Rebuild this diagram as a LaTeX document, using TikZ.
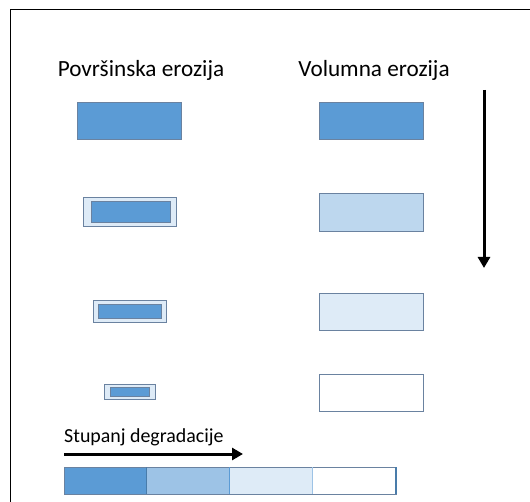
\documentclass[tikz,border=0pt]{standalone}
\usepackage{fontspec}
\setmainfont{Carlito}
\usetikzlibrary{arrows.meta}
\definecolor{dblue}{HTML}{5B9BD5}
\definecolor{mblue}{HTML}{BDD7EE}
\definecolor{m2blue}{HTML}{9DC3E6}
\definecolor{lblue}{HTML}{DEEBF7}
\definecolor{edge}{HTML}{6A82A0}
\begin{document}
\begin{tikzpicture}[x=1pt,y=-1pt,
  boxa/.style={draw=edge,line width=0.9pt},
  title/.style={font=\fontsize{23.2}{27}\selectfont,inner sep=0pt},
  bigarrow/.style={line width=3pt,-{Triangle[length=11pt,width=12pt]}}]
\useasboundingbox (0,0) rectangle (530,502);
\draw[line width=1pt] (10,502) -- (10,10) -- (530,10);
\node[title] (t1) at (141,70) {Površinska erozija};
\node[title] (t2) at (374,70) {Volumna erozija};
% left column
\filldraw[boxa,fill=dblue] (77,102) rectangle (181,139);
\filldraw[boxa,fill=lblue] (83,197) rectangle (176,226);
\filldraw[boxa,fill=dblue] (91,201) rectangle (170,222);
\filldraw[boxa,fill=lblue] (93,300) rectangle (166,322);
\filldraw[boxa,fill=dblue] (98,304) rectangle (161,318);
\filldraw[boxa,fill=lblue] (104,384) rectangle (155,399);
\filldraw[boxa,fill=dblue] (110,387) rectangle (149,396);
% right column
\filldraw[boxa,fill=dblue] (319,102) rectangle (423,139);
\filldraw[boxa,fill=mblue] (319,193) rectangle (423,231);
\filldraw[boxa,fill=lblue] (319,293) rectangle (423,330);
\filldraw[boxa,fill=white] (319,374) rectangle (423,411);
% vertical arrow
\coordinate (va) at (484,90);
\coordinate (vb) at (484,268);
\draw[bigarrow] (va) -- (vb);
% bottom
\node[font=\fontsize{19.9}{24}\selectfont,inner sep=0pt,anchor=west] (st) at (64,437) {Stupanj degradacije};
\coordinate (ha) at (64,454);
\coordinate (hb) at (243,454);
\draw[bigarrow] (ha) -- (hb);
\fill[dblue] (64,467) rectangle (146,494);
\fill[m2blue] (146,467) rectangle (229,494);
\fill[lblue] (229,467) rectangle (312,494);
\draw[edge,line width=0.8pt] (64,467) rectangle (396,494);
\draw[dblue!80!black,line width=0.6pt] (146,467) -- (146,494);
\draw[dblue,line width=0.6pt] (229,467) -- (229,494);
\draw[m2blue,line width=0.8pt] (312,467) -- (312,494);
\draw[dblue!80!black,line width=1.5pt] (396,467) -- (396,494);
\end{tikzpicture}
\end{document}
